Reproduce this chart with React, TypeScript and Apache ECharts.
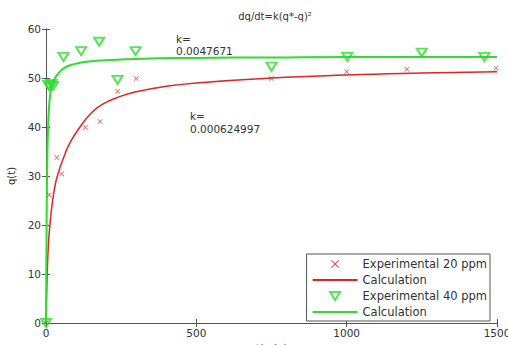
import React, { useEffect, useRef } from "react";
import * as echarts from "echarts";

// Experimental 20 ppm (t, q)
const exp20T = [0, 11, 36, 52, 131, 180, 238, 300, 750, 1000, 1200, 1497];
const exp20Q = [0, 26.1, 33.8, 30.4, 39.9, 41.1, 47.3, 49.9, 49.9, 51.3, 51.8, 52];
// Calculation 20 ppm curve
const calc20T = [0, 2, 4, 8, 13, 20, 30, 40, 60, 80, 113, 150, 187, 250, 300, 400, 500, 750, 1000, 1250, 1500];
const calc20Q = [0, 5.5, 10, 16, 20, 24, 28, 30.5, 34, 36.8, 40, 42.8, 44.6, 46.3, 47.2, 48.3, 49, 50, 50.6, 51, 51.3];
// Experimental 40 ppm
const exp40T = [0, 8, 13, 18, 24, 58, 117, 177, 238, 298, 750, 1002, 1250, 1458];
const exp40Q = [0, 48.6, 48.2, 48.8, 48.4, 54.3, 55.5, 57.4, 49.6, 55.5, 52.3, 54.3, 55.2, 54.3];
// Calculation 40 ppm curve
const calc40T = [0, 2, 4, 6, 10, 15, 20, 30, 45, 60, 80, 113, 150, 200, 300, 500, 750, 1000, 1500];
const calc40Q = [0, 20, 32, 38, 44, 47, 48.5, 50, 51.2, 52, 52.6, 53.1, 53.4, 53.6, 53.9, 54.1, 54.2, 54.3, 54.3];

const xTicks = { min: 0, max: 1500, interval: 500 };
const yTicks = { min: 0, max: 60, interval: 10 };

const titleText = "dq/dt=k(q*-q)²";
const kLabelGreen = ["k=", "0.0047671"];
const kLabelRed = ["k=", "0.000624997"];

const RED = "#e02424";
const GREEN = "#2fdc2f";
const FONT = "DejaVu Sans, sans-serif";
const AXIS = "#555";
const TXT = "#333";

const zip = (t: number[], q: number[]) => t.map((v, i) => [v, q[i]]);

const XPATH = "path://M0,1 L1,0 L5,4 L9,0 L10,1 L6,5 L10,9 L9,10 L5,6 L1,10 L0,9 L4,5 Z";
const TRIICON = "path://M0,0 L10,0 L5,8 Z";

export default function App() {
  const ref = useRef<HTMLDivElement>(null);
  useEffect(() => {
    if (!ref.current) return;
    const chart = echarts.init(ref.current, undefined, { renderer: "svg" });
    const tickStyle = { inside: true, length: 4, lineStyle: { color: AXIS } };
    const plainFmt = (v: number) => String(v);
    const txt = (left: number, top: number, text: string) => ({
      type: "text",
      left,
      top,
      style: { text, fill: TXT, font: `10.5px ${FONT}` },
    });
    const hidden = { color: "rgba(0,0,0,0)", borderColor: "rgba(0,0,0,0)", borderWidth: 0, opacity: 0 };
    chart.setOption({
      animation: false,
      backgroundColor: "#fff",
      textStyle: { fontFamily: FONT },
      title: {
        text: titleText,
        left: 270,
        top: 6,
        textAlign: "center",
        textStyle: { fontSize: 10, fontWeight: "normal", color: TXT, fontFamily: FONT },
      },
      grid: { left: 46, right: 11, top: 29, bottom: 22, containLabel: false, outerBoundsMode: "none" },
      xAxis: [
        {
          type: "value",
          ...xTicks,
          name: "t(min)",
          nameLocation: "middle",
          nameGap: 17,
          nameTextStyle: { fontSize: 10.5, color: TXT },
          axisLine: { show: true, lineStyle: { color: AXIS } },
          axisTick: tickStyle,
          axisLabel: { fontSize: 10.5, color: TXT, margin: 4, formatter: plainFmt },
          splitLine: { show: false },
        },
        {
          type: "value",
          ...xTicks,
          position: "top",
          axisLine: { show: true, lineStyle: { color: AXIS } },
          axisTick: tickStyle,
          axisLabel: { show: false },
          splitLine: { show: false },
        },
      ],
      yAxis: [
        {
          type: "value",
          ...yTicks,
          name: "q(t)",
          nameLocation: "middle",
          nameGap: 30,
          nameTextStyle: { fontSize: 10, color: TXT },
          axisLine: { show: true, lineStyle: { color: AXIS } },
          axisTick: tickStyle,
          axisLabel: { fontSize: 10.5, color: TXT, margin: 5, formatter: plainFmt },
          splitLine: { show: false },
        },
        {
          type: "value",
          ...yTicks,
          position: "right",
          axisLine: { show: true, lineStyle: { color: AXIS } },
          axisTick: tickStyle,
          axisLabel: { show: false },
          splitLine: { show: false },
        },
      ],
      legend: {
        orient: "vertical",
        right: 18,
        bottom: 24,
        backgroundColor: "#fff",
        borderColor: AXIS,
        borderWidth: 1,
        borderRadius: 0,
        padding: [4, 3, 3, 5],
        itemWidth: 45,
        itemHeight: 8,
        itemGap: 4,
        textStyle: { fontSize: 11.5, color: TXT, fontFamily: FONT, lineHeight: 12 },
        formatter: (name: string) => (name.startsWith("Calculation") ? "Calculation" : name),
        data: [
          { name: "Experimental 20 ppm", icon: XPATH },
          { name: "Calculation 20", itemStyle: hidden },
          { name: "Experimental 40 ppm", icon: TRIICON },
          { name: "Calculation 40", itemStyle: hidden },
        ],
      },
      graphic: [
        txt(176, 33, kLabelGreen[0]),
        txt(176, 45, kLabelGreen[1]),
        txt(190, 110, kLabelRed[0]),
        txt(190, 123, kLabelRed[1]),
      ],
      series: [
        {
          name: "Calculation 20",
          type: "line",
          data: zip(calc20T, calc20Q),
          symbol: "none",
          smooth: true,
          lineStyle: { color: RED, width: 1.5 },
          itemStyle: { color: RED },
          z: 2,
        },
        {
          name: "Calculation 40",
          type: "line",
          data: zip(calc40T, calc40Q),
          symbol: "none",
          smooth: true,
          lineStyle: { color: GREEN, width: 2 },
          itemStyle: { color: GREEN },
          z: 2,
        },
        {
          name: "Experimental 20 ppm",
          type: "scatter",
          data: zip(exp20T, exp20Q),
          symbol: XPATH,
          symbolSize: 5,
          itemStyle: { color: RED },
          z: 3,
        },
        {
          name: "Experimental 40 ppm",
          type: "scatter",
          data: zip(exp40T, exp40Q),
          symbol: "triangle",
          symbolRotate: 180,
          symbolSize: [10, 8],
          itemStyle: { color: "rgba(255,255,255,0)", borderColor: GREEN, borderWidth: 2 },
          z: 3,
        },
      ],
    });
    return () => chart.dispose();
  }, []);
  return (
    <div
      ref={ref}
      style={{ position: "fixed", left: 0, top: 0, width: 508, height: 345 }}
    />
  );
}
